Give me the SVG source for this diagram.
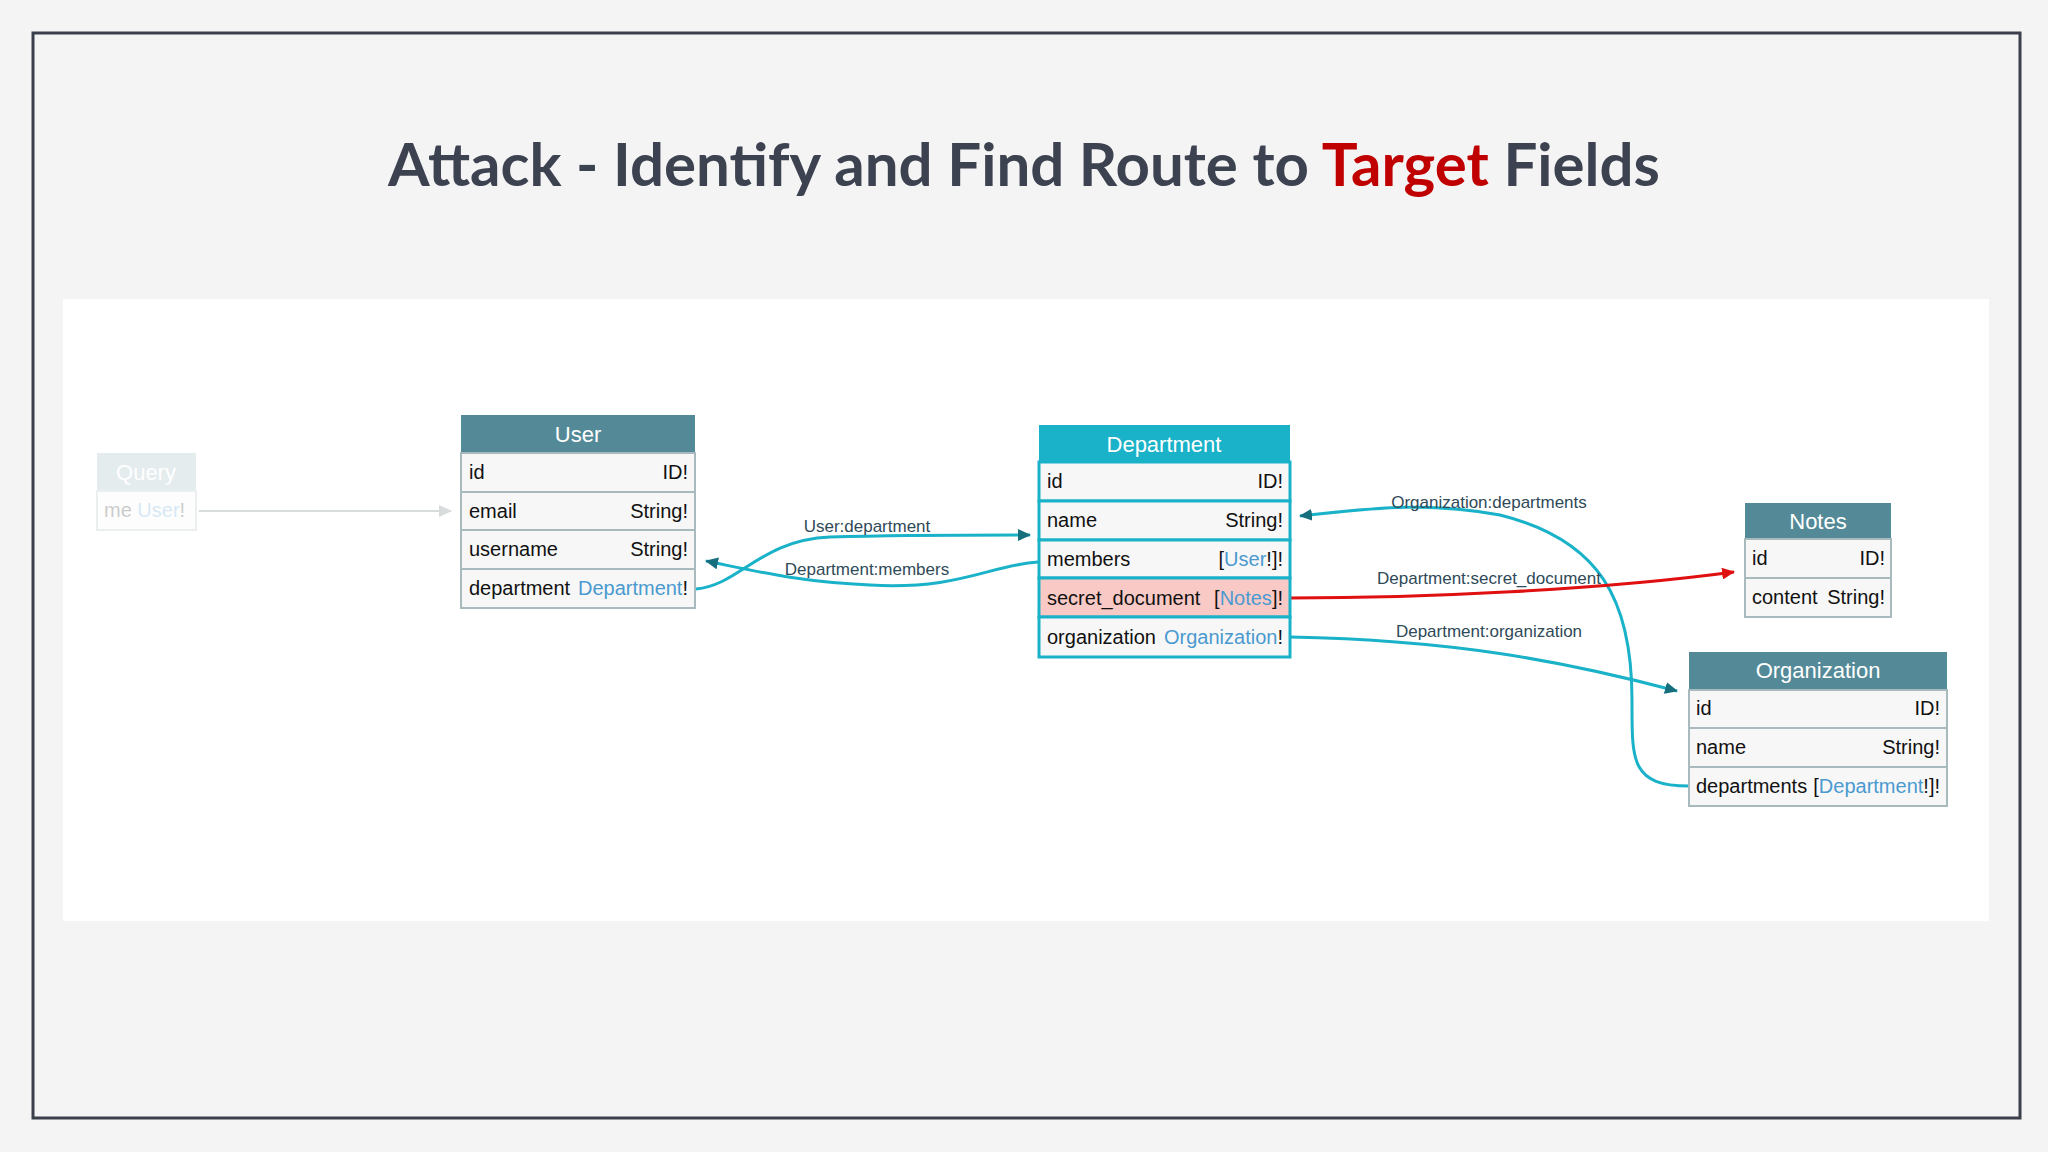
<svg xmlns="http://www.w3.org/2000/svg" width="2048" height="1152" viewBox="0 0 2048 1152">
<defs>
<style>
.t{font-family:"Liberation Sans",Arial,sans-serif;font-size:20px;fill:#111}
.ty{fill:#4a9ad0}
.h{font-family:"Liberation Sans",Arial,sans-serif;font-size:22px;fill:#fff;text-anchor:middle}
.lb{font-family:"Liberation Sans",Arial,sans-serif;font-size:17px;fill:#2f4a58;text-anchor:middle}
.r{fill:#f7f7f7;stroke:#a9babf;stroke-width:2}
.hd{fill:#548a97}
.dr{fill:#f7f7f7;stroke:#1ab2c8;stroke-width:3}
.e{fill:none;stroke:#1ab2c8;stroke-width:3}
</style>
<marker id="a" markerWidth="14" markerHeight="12" refX="12" refY="6" orient="auto" markerUnits="userSpaceOnUse"><path d="M0,0 L13,6 L0,12 z" fill="#176f7e"/></marker>
<marker id="ar" markerWidth="14" markerHeight="12" refX="12" refY="6" orient="auto" markerUnits="userSpaceOnUse"><path d="M0,0 L13,6 L0,12 z" fill="#e01010"/></marker>
<marker id="ag" markerWidth="14" markerHeight="12" refX="12" refY="6" orient="auto" markerUnits="userSpaceOnUse"><path d="M0,0 L13,6 L0,12 z" fill="#d8dcdd"/></marker>
</defs>
<rect width="2048" height="1152" fill="#f4f4f5"/>
<rect x="33" y="33" width="1987" height="1085" fill="#f4f4f5" stroke="#3a3f4b" stroke-width="3"/>
<text x="1024" y="186" text-anchor="middle" font-family="Lato,'Open Sans',sans-serif" font-weight="bold" font-size="60" fill="#3d4250">Attack - Identify and Find Route to <tspan fill="#c00000">Target</tspan> Fields</text>
<rect x="63" y="299" width="1926" height="622" fill="#ffffff"/>

<g id="connectors">
<path d="M199,511 L451,511" fill="none" stroke="#d8dcdd" stroke-width="2" marker-end="url(#ag)"/>
<path class="e" d="M696,589 C740,585 760,540 830,537 C900,535 980,535 1030,535" marker-end="url(#a)"/>
<path class="e" d="M1038,562 C990,565 960,590 870,585 C800,582 760,572 706,561" marker-end="url(#a)"/>
<path class="e" d="M1689,786 C1630,786 1632,760 1632,700 C1632,600 1600,540 1500,515 C1420,500 1360,510 1300,516" marker-end="url(#a)"/>
<path d="M1290,598 C1420,598 1600,590 1734,572" fill="none" stroke="#e01010" stroke-width="3" marker-end="url(#ar)"/>
<path class="e" d="M1290,637 C1450,640 1560,660 1677,691" marker-end="url(#a)"/>
<text class="lb" x="867" y="532">User:department</text>
<text class="lb" x="867" y="575">Department:members</text>
<text class="lb" x="1489" y="508">Organization:departments</text>
<text class="lb" x="1489" y="584">Department:secret_document</text>
<text class="lb" x="1489" y="637">Department:organization</text>
</g>

<g id="query" opacity="0.22">
<rect x="97" y="453" width="99" height="38" fill="#8aaab6"/>
<rect x="97" y="491" width="99" height="39" class="r"/>
<text class="h" x="146" y="480">Query</text>
<text class="t" x="104" y="517" fill="#777">me <tspan class="ty">User</tspan>!</text>
</g>

<g id="user">
<rect x="461" y="415" width="234" height="38" class="hd"/>
<text class="h" x="578" y="442">User</text>
<rect x="461" y="453" width="234" height="39" class="r"/>
<rect x="461" y="492" width="234" height="38" class="r"/>
<rect x="461" y="530" width="234" height="39" class="r"/>
<rect x="461" y="569" width="234" height="39" class="r"/>
<text class="t" x="469" y="479">id</text><text class="t" x="688" y="479" text-anchor="end">ID!</text>
<text class="t" x="469" y="518">email</text><text class="t" x="688" y="518" text-anchor="end">String!</text>
<text class="t" x="469" y="556">username</text><text class="t" x="688" y="556" text-anchor="end">String!</text>
<text class="t" x="469" y="595">department</text><text class="t" x="688" y="595" text-anchor="end"><tspan class="ty">Department</tspan>!</text>
</g>

<g id="department">
<rect x="1039" y="425" width="251" height="232" fill="#1ab2c8"/>
<text class="h" x="1164" y="452">Department</text>
<rect x="1039" y="462" width="251" height="39" class="dr"/>
<rect x="1039" y="501" width="251" height="39" class="dr"/>
<rect x="1039" y="540" width="251" height="38" class="dr"/>
<rect x="1039" y="578" width="251" height="39" class="dr" style="fill:#f9c9c6"/>
<rect x="1039" y="617" width="251" height="40" class="dr"/>
<text class="t" x="1047" y="488">id</text><text class="t" x="1283" y="488" text-anchor="end">ID!</text>
<text class="t" x="1047" y="527">name</text><text class="t" x="1283" y="527" text-anchor="end">String!</text>
<text class="t" x="1047" y="566">members</text><text class="t" x="1283" y="566" text-anchor="end">[<tspan class="ty">User</tspan>!]!</text>
<text class="t" x="1047" y="605">secret_document</text><text class="t" x="1283" y="605" text-anchor="end">[<tspan class="ty">Notes</tspan>]!</text>
<text class="t" x="1047" y="644">organization</text><text class="t" x="1283" y="644" text-anchor="end"><tspan class="ty">Organization</tspan>!</text>
</g>

<g id="notes">
<rect x="1745" y="503" width="146" height="36" class="hd"/>
<text class="h" x="1818" y="529">Notes</text>
<rect x="1745" y="539" width="146" height="39" class="r"/>
<rect x="1745" y="578" width="146" height="39" class="r"/>
<text class="t" x="1752" y="565">id</text><text class="t" x="1885" y="565" text-anchor="end">ID!</text>
<text class="t" x="1752" y="604">content</text><text class="t" x="1885" y="604" text-anchor="end">String!</text>
</g>

<g id="organization">
<rect x="1689" y="652" width="258" height="38" class="hd"/>
<text class="h" x="1818" y="678">Organization</text>
<rect x="1689" y="690" width="258" height="38" class="r"/>
<rect x="1689" y="728" width="258" height="39" class="r"/>
<rect x="1689" y="767" width="258" height="39" class="r"/>
<text class="t" x="1696" y="715">id</text><text class="t" x="1940" y="715" text-anchor="end">ID!</text>
<text class="t" x="1696" y="754">name</text><text class="t" x="1940" y="754" text-anchor="end">String!</text>
<text class="t" x="1696" y="793">departments</text><text class="t" x="1940" y="793" text-anchor="end">[<tspan class="ty">Department</tspan>!]!</text>
</g>
</svg>
